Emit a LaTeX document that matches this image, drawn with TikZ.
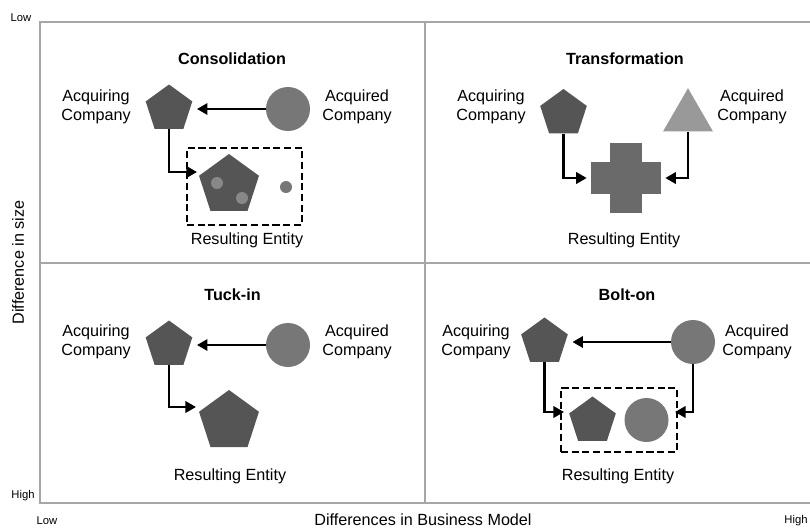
\documentclass[tikz,border=0pt]{standalone}
\usepackage{fontspec}
\setmainfont{Liberation Sans}
\usepackage{xcolor}
\usepackage{tikz}
\usetikzlibrary{shapes.geometric, arrows.meta, positioning}
\definecolor{cFrame}{RGB}{166,166,166}
\definecolor{cDark}{RGB}{85,85,85}
\definecolor{cMid}{RGB}{119,119,119}
\definecolor{cLight}{RGB}{153,153,153}
\definecolor{cCross}{RGB}{106,106,106}
\definecolor{cSpot}{RGB}{136,136,136}
\tikzset{
	frame/.style  ={draw=cFrame, line width=1.4pt},
	pent/.style   ={regular polygon, regular polygon sides=5, minimum size=1.225cm, inner sep=0pt, fill=cDark},
	bigpent/.style={pent, minimum size=1.575cm},
	tri/.style    ={regular polygon, regular polygon sides=3, minimum size=1.44cm, inner sep=0pt, fill=cLight},
	firm/.style   ={circle, minimum size=1.1cm, inner sep=0pt, fill=cMid},
	spot/.style   ={circle, minimum size=0.3cm, inner sep=0pt, fill=#1},
	armv/.style   ={rectangle, minimum width=0.8cm, minimum height=1.75cm, inner sep=0pt, fill=cCross},
	armh/.style   ={rectangle, minimum width=1.75cm, minimum height=0.8cm, inner sep=0pt, fill=cCross},
	entity/.style ={rectangle, draw=black, line width=1.8pt, dash pattern=on 5pt off 2.6pt, inner sep=0pt},
	lbl/.style    ={align=center, inner sep=0pt},
	qtitle/.style ={inner sep=0pt, font=\fontsize{11.5}{13.5}\selectfont\bfseries},
	axis/.style   ={inner sep=0pt, font=\fontsize{8}{9.6}\selectfont},
	flow/.style   ={-{Triangle[length=7.5pt, width=8pt]}, line width=1.9pt},
	gap/.style    ={shorten >=0.17cm},
}

\begin{document}
\begin{tikzpicture}[x=0.025cm, y=-0.025cm, font=\fontsize{11.5}{13.5}\selectfont]
	\useasboundingbox (0,0) rectangle (810,529);
	\draw[frame] (810,22) -- (40,22) -- (40,503) -- (810,503);
	\draw[frame] (425,22) -- (425,503);
	\draw[frame] (40,263) -- (810,263);
	\node[axis] (ylow) at (21,18) {Low};
	\node[axis] (yhigh) at (23,496) {High};
	\node[axis] (xlow) at (47,521) {Low};
	\node[axis] (xhigh) at (796,521) {High};
	\node[lbl] (xname) at (423,519.5) {Differences in Business Model};
	\node[lbl, rotate=90] (yname) at (18,262.5) {Difference in size};

	\node[qtitle] (ctitle) at (232,59) {Consolidation};
	\node[pent] (cacq) at (169,109) {};
	\node[firm] (cacd) at (288,109) {};
	\node[lbl] (cacqt) at (96,107) {Acquiring\\Company};
	\node[lbl] (cacdt) at (357,107) {Acquired\\Company};
	\node[entity, minimum width=2.875cm, minimum height=1.925cm] (cbox) at (244.5,186.5) {};
	\node[bigpent] (cres) at (229,185.5) {};
	\node[spot=cSpot] (cs1) at (217,183) {};
	\node[spot=cSpot] (cs2) at (242,198) {};
	\node[spot=cMid] (cs3) at (286,187) {};
	\node[lbl] (cent) at (247,240) {Resulting Entity};
	\coordinate (cin) at (197,172);
	\draw[flow, gap] (cacd) -- (cacq);
	\draw[flow] (cacq) |- (cin);

	\node[qtitle] (ttitle) at (625,59) {Transformation};
	\node[pent] (tacq) at (563.5,113.5) {};
	\node[tri] (tacd) at (688,117) {};
	\node[lbl] (tacqt) at (491,107) {Acquiring\\Company};
	\node[lbl] (tacdt) at (752,107) {Acquired\\Company};
	\node[armv] (tresv) at (626,178) {};
	\node[armh] (tres) at (626,178) {};
	\node[lbl] (tent) at (624,240) {Resulting Entity};
	\draw[flow, shorten >=0.1cm] (tacq) |- (tres);
	\draw[flow, shorten >=0.1cm] (tacd) |- (tres);

	\node[qtitle] (utitle) at (232.5,295) {Tuck-in};
	\node[pent] (uacq) at (169,345) {};
	\node[firm] (uacd) at (288,345) {};
	\node[lbl] (uacqt) at (96,342) {Acquiring\\Company};
	\node[lbl] (uacdt) at (357,342) {Acquired\\Company};
	\node[bigpent] (ures) at (229,421.5) {};
	\node[lbl] (uent) at (230,476) {Resulting Entity};
	\coordinate (uin) at (196,407);
	\draw[flow, gap] (uacd) -- (uacq);
	\draw[flow] (uacq) |- (uin);

	\node[qtitle] (btitle) at (627,295) {Bolt-on};
	\node[pent] (bacq) at (544.5,342) {};
	\node[firm] (bacd) at (693,342) {};
	\node[lbl] (bacqt) at (476,342) {Acquiring\\Company};
	\node[lbl] (bacdt) at (757,342) {Acquired\\Company};
	\node[entity, minimum width=2.9cm, minimum height=1.6cm] (bbox) at (619,420) {};
	\node[pent] (bres1) at (592.5,421) {};
	\node[firm] (bres2) at (646.5,420) {};
	\node[lbl] (bent) at (618,476) {Resulting Entity};
	\coordinate (bin1) at (564,412);
	\coordinate (bin2) at (675,412);
	\draw[flow, gap] (bacd) -- (bacq);
	\draw[flow] (bacq) |- (bin1);
	\draw[flow] (bacd) |- (bin2);
\end{tikzpicture}
\end{document}
